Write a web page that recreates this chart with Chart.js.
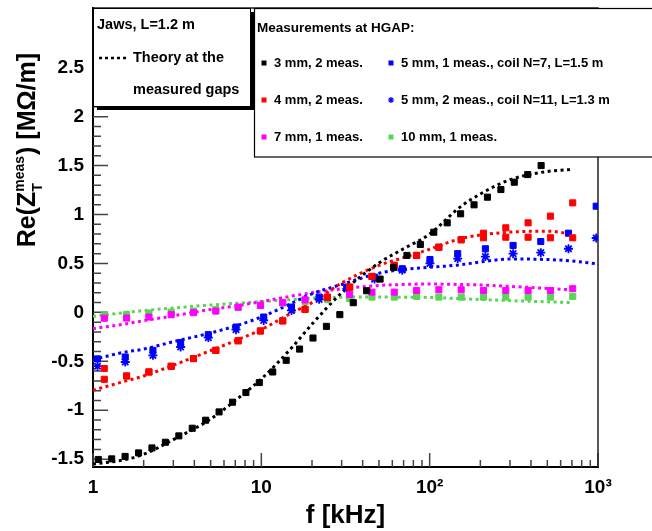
<!DOCTYPE html>
<html>
<head>
<meta charset="utf-8">
<script src="https://cdn.jsdelivr.net/npm/chart.js@4.4.0/dist/chart.umd.min.js"></script>
<style>
  html, body { margin: 0; padding: 0; background: #fff; }
  #wrap { width: 652px; height: 531px; }
</style>
</head>
<body>
<div id="wrap"><canvas id="zchart" width="652" height="531"></canvas></div>
<script>
// frequencies in kHz, Re(Z) in MOhm/m
const blackFreq = [1.075, 1.291, 1.551, 1.865, 2.240, 2.692, 3.235, 3.886, 4.669, 5.610, 6.741, 8.098, 9.728,
  11.69, 14.05, 16.87, 20.27, 24.36, 29.27, 35.16, 42.25, 50.76, 60.99, 73.28, 88.03, 105.8, 127.1, 152.7,
  183.5, 220.4, 264.9, 318.2, 382.3, 459.3];
const meas3mm = [-1.503, -1.497, -1.472, -1.436, -1.385, -1.327, -1.262, -1.184, -1.102, -1.017, -0.918, -0.819,
  -0.717, -0.609, -0.490, -0.375, -0.262, -0.143, -0.023, 0.099, 0.221, 0.340, 0.459, 0.582, 0.694, 0.819,
  0.915, 1.007, 1.099, 1.177, 1.255, 1.330, 1.408, 1.500];

const gapFreq = [1.167, 1.583, 2.148, 2.915, 3.955, 5.366, 7.281, 9.879, 13.40, 18.18, 24.68, 33.48, 45.42,
  61.63, 83.62, 113.4, 153.9, 208.8, 283.3, 384.3, 521.5, 707.6];
const meas4mmA = [-0.574, -0.650, -0.609, -0.551, -0.472, -0.388, -0.290, -0.190, -0.087, 0.030, 0.155, 0.258,
  0.367, 0.480, 0.582, 0.666, 0.742, 0.809, 0.864, 0.915, 0.983, 1.119];
const meas4mmB = [-0.684, -0.650, -0.609, -0.551, -0.472, -0.388, -0.290, -0.190, -0.087, 0.030, 0.155, 0.258,
  0.367, 0.480, 0.582, 0.666, 0.742, 0.762, 0.768, 0.768, 0.762, 0.762];
const meas7mm = [-0.060, -0.058, -0.048, -0.024, -0.003, 0.013, 0.054, 0.071, 0.099, 0.128, 0.150, 0.184,
  0.207, 0.207, 0.224, 0.231, 0.231, 0.224, 0.224, 0.224, 0.224, 0.242];
const meas10mm = [-0.031, -0.020, -0.007, 0.003, 0.013, 0.028, 0.048, 0.071, 0.095, 0.110, 0.130, 0.140,
  0.156, 0.156, 0.163, 0.156, 0.156, 0.156, 0.156, 0.156, 0.156, 0.163];

const coilFreq = [1.064, 1.554, 2.270, 3.315, 4.843, 7.073, 10.33, 15.10, 22.05, 32.21, 47.05, 68.73, 100.4,
  146.7, 214.3, 313.0, 457.2, 667.8, 975.7];
const meas5mmN7 = [-0.475, -0.456, -0.388, -0.309, -0.228, -0.150, -0.048, 0.054, 0.156, 0.258, 0.360, 0.446,
  0.540, 0.600, 0.650, 0.684, 0.724, 0.809, 1.085];
const meas5mmN11 = [-0.550, -0.507, -0.439, -0.354, -0.258, -0.177, -0.082, 0.020, 0.133, 0.240, 0.340, 0.430,
  0.500, 0.550, 0.570, 0.600, 0.610, 0.650, 0.760];

const theoryFreq = [1, 1.5, 2, 3, 5, 7, 10, 15, 20, 30, 50, 70, 100, 150, 200, 300, 500, 700, 1000];
const theory3mm = [-1.55, -1.51, -1.45, -1.30, -1.09, -0.90, -0.68, -0.37, -0.12, 0.20, 0.505, 0.65, 0.80, 1.07,
  1.21, 1.355, 1.44, 1.46];
const theory4mm = [-0.796, -0.71, -0.65, -0.54, -0.39, -0.29, -0.175, -0.01, 0.10, 0.30, 0.48, 0.56, 0.645, 0.75,
  0.79, 0.82, 0.83, 0.80];
const theory5mm = [-0.483, -0.41, -0.375, -0.30, -0.21, -0.14, -0.047, 0.09, 0.19, 0.285, 0.40, 0.44, 0.46, 0.485,
  0.515, 0.545, 0.54, 0.525, 0.495];
const theory7mm = [-0.167, -0.122, -0.085, -0.035, 0.03, 0.065, 0.11, 0.165, 0.20, 0.24, 0.275, 0.285, 0.29,
  0.285, 0.28, 0.265, 0.245, 0.23];
const theory10mm = [-0.04, -0.005, 0.018, 0.045, 0.075, 0.092, 0.11, 0.13, 0.145, 0.155, 0.157, 0.155, 0.152,
  0.14, 0.132, 0.12, 0.108, 0.10];

const xTicks = [1, 10, 100, 1000];
const xTickLabels = ["1", "10", "10\u00B2", "10\u00B3"];
const yTicks = [-1.5, -1, -0.5, 0, 0.5, 1, 1.5, 2, 2.5];
const yTickLabels = ["-1.5", "-1", "-0.5", "0", "0.5", "1", "1.5", "2", "2.5"];

const FONT = '"Liberation Sans", Arial, Helvetica, sans-serif';
const GREEN = "#59d454";

function pts(xs, ys) {
  return ys.map((y, i) => ({ x: xs[i], y: y }));
}

function measSet(label, xs, ys, color, style) {
  return {
    label: label,
    data: pts(xs, ys),
    showLine: false,
    pointStyle: style || "rect",
    pointRadius: style === "star" ? 4.5 : 4.3,
    pointBorderWidth: style === "star" ? 1.8 : 1,
    backgroundColor: color,
    borderColor: color,
    order: 0
  };
}

function theorySet(xs, ys, color) {
  return {
    label: "theory",
    data: pts(xs, ys),
    showLine: true,
    pointRadius: 0,
    borderColor: color,
    borderWidth: 3,
    borderDash: [3, 3.5],
    cubicInterpolationMode: "monotone",
    fill: false,
    order: 1
  };
}

const datasets = [
  measSet("3 mm, 2 meas.", blackFreq, meas3mm, "#000000"),
  measSet("4 mm, 2 meas.", gapFreq, meas4mmA, "#ff0000"),
  measSet("4 mm, 2 meas.", gapFreq, meas4mmB, "#ff0000"),
  measSet("7 mm, 1 meas.", gapFreq, meas7mm, "#ff00ff"),
  measSet("5 mm, 1 meas., coil N=7, L=1.5 m", coilFreq, meas5mmN7, "#0000ff"),
  measSet("5 mm, 2 meas., coil N=11, L=1.3 m", coilFreq, meas5mmN11, "#0000ff", "star"),
  measSet("10 mm, 1 meas.", gapFreq, meas10mm, GREEN),
  theorySet(theoryFreq, theory3mm, "#000000"),
  theorySet(theoryFreq, theory4mm, "#ff0000"),
  theorySet(theoryFreq, theory5mm, "#0000ff"),
  theorySet(theoryFreq, theory7mm, "#ff00ff"),
  theorySet(theoryFreq, theory10mm, GREEN)
];

// inside ticks (ROOT style) and the rest of the frame
const frameTicks = {
  id: "frameTicks",
  beforeDatasetsDraw(chart) {
    const ctx = chart.ctx;
    const a = chart.chartArea;
    const xs = chart.scales.x, ys = chart.scales.y;
    ctx.save();
    ctx.strokeStyle = "#444";
    ctx.lineWidth = 1.5;
    ctx.beginPath();
    for (let dec = 1; dec < 1000; dec *= 10) {
      for (let m = 1; m < 10; m++) {
        const px = xs.getPixelForValue(m * dec);
        const len = m === 1 ? 14 : 7;
        ctx.moveTo(px, a.bottom);
        ctx.lineTo(px, a.bottom - len);
      }
    }
    const px = xs.getPixelForValue(1000);
    ctx.moveTo(px, a.bottom);
    ctx.lineTo(px, a.bottom - 14);
    for (let k = -15; k <= 30; k++) {
      const py = ys.getPixelForValue(k / 10);
      const len = k % 5 === 0 ? 15 : 8;
      ctx.moveTo(a.left, py);
      ctx.lineTo(a.left + len, py);
    }
    ctx.stroke();
    ctx.strokeStyle = "#222";
    ctx.beginPath();
    ctx.moveTo(a.right, a.bottom);
    ctx.lineTo(a.right, a.top);
    ctx.lineTo(a.left, a.top);
    ctx.stroke();
    ctx.restore();
  },
  afterDraw(chart) {
    // y axis title with sub- and superscript
    const ctx = chart.ctx;
    ctx.save();
    ctx.fillStyle = "#000";
    ctx.textBaseline = "alphabetic";
    const big = "bold 25px " + FONT, small = "bold 14px " + FONT;
    ctx.font = big;
    const w1 = ctx.measureText("Re(Z").width;
    const w3 = ctx.measureText(") [M\u03A9/m]").width;
    ctx.font = small;
    const w2 = Math.max(ctx.measureText("meas").width, ctx.measureText("T").width) + 1;
    const total = w1 + w2 + w3;
    ctx.translate(35, 53);
    ctx.rotate(-Math.PI / 2);
    let x = -total;
    ctx.font = big;
    ctx.fillText("Re(Z", x, 0);
    x += w1;
    ctx.font = small;
    ctx.fillText("meas", x, -11);
    ctx.fillText("T", x, 7);
    x += w2;
    ctx.font = big;
    ctx.fillText(") [M\u03A9/m]", x, 0);
    ctx.restore();
  }
};

function drawMarker(ctx, style, color, x, y) {
  ctx.fillStyle = color;
  ctx.strokeStyle = color;
  if (style === "star") {
    ctx.lineWidth = 1.2;
    ctx.beginPath();
    ctx.moveTo(x - 3, y); ctx.lineTo(x + 3, y);
    ctx.moveTo(x, y - 3); ctx.lineTo(x, y + 3);
    ctx.moveTo(x - 2.2, y - 2.2); ctx.lineTo(x + 2.2, y + 2.2);
    ctx.moveTo(x - 2.2, y + 2.2); ctx.lineTo(x + 2.2, y - 2.2);
    ctx.stroke();
  } else {
    ctx.fillRect(x - 2.5, y - 2.5, 5, 5);
  }
}

const rootLegends = {
  id: "rootLegends",
  afterDraw(chart) {
    const ctx = chart.ctx;
    ctx.save();
    // box 1: jaws / theory
    ctx.fillStyle = "#000";
    ctx.fillRect(97, 12, 157, 98);
    ctx.fillStyle = "#fff";
    ctx.fillRect(93, 8, 158, 99);
    ctx.strokeStyle = "#000";
    ctx.lineWidth = 1;
    ctx.strokeRect(93.5, 8.5, 157, 98);
    ctx.fillStyle = "#000";
    ctx.textBaseline = "middle";
    ctx.textAlign = "left";
    ctx.font = "bold 14.5px " + FONT;
    ctx.fillText("Jaws, L=1.2 m", 97, 25);
    ctx.fillText("Theory at the", 133, 58);
    ctx.fillText("measured gaps", 133, 90);
    ctx.setLineDash([3, 3]);
    ctx.lineWidth = 2.5;
    ctx.beginPath();
    ctx.moveTo(99, 58);
    ctx.lineTo(129, 58);
    ctx.stroke();
    ctx.setLineDash([]);

    // box 2: measurements
    ctx.fillStyle = "#fff";
    ctx.fillRect(254, 8, 420, 149);
    ctx.lineWidth = 1.2;
    ctx.strokeRect(254.5, 8.5, 420, 148.5);
    ctx.fillStyle = "#000";
    ctx.font = "bold 13.5px " + FONT;
    ctx.fillText("Measurements at HGAP:", 257, 28);

    const ds = chart.data.datasets;
    const entries = [
      [ds[0], 264, 63], [ds[4], 391, 63],
      [ds[1], 264, 100], [ds[5], 391, 100],
      [ds[3], 264, 137], [ds[6], 391, 137]
    ];
    ctx.font = "bold 13px " + FONT;
    entries.forEach(([d, x, y]) => {
      drawMarker(ctx, d.pointStyle, d.backgroundColor, x, y);
      ctx.fillStyle = "#000";
      ctx.fillText(d.label, x + 10, y);
    });
    ctx.restore();
  }
};

Chart.defaults.font.family = FONT;
Chart.defaults.color = "#000";

const ctx = document.getElementById("zchart").getContext("2d");
const zChart = new Chart(ctx, {
  type: "scatter",
  data: { datasets: datasets },
  options: {
    responsive: false,
    devicePixelRatio: 1,
    animation: false,
    layout: { padding: { top: 8, right: 54, left: 0, bottom: 0 } },
    plugins: {
      legend: { display: false },
      tooltip: { enabled: false }
    },
    scales: {
      x: {
        type: "logarithmic",
        position: "bottom",
        min: 1,
        max: 1000,
        grid: { display: false, drawTicks: false },
        border: { display: true, color: "#000", width: 2 },
        ticks: {
          font: { size: 19, weight: "bold" },
          color: "#000",
          padding: 9,
          maxRotation: 0,
          autoSkip: false,
          callback: function(v) {
            const i = xTicks.indexOf(v);
            return i >= 0 ? xTickLabels[i] : "";
          }
        },
        title: {
          display: true,
          text: "f [kHz]",
          font: { size: 26, weight: "bold" },
          color: "#000",
          padding: { top: 0, bottom: 0 }
        },
        afterBuildTicks: function(scale) {
          scale.ticks = xTicks.map(v => ({ value: v }));
        },
        afterFit: function(scale) {
          scale.height = 64;
          scale.paddingLeft = 0;
          scale.paddingRight = 0;
        }
      },
      y: {
        min: -1.58,
        max: 3.11,
        grid: { display: false, drawTicks: false },
        border: { display: true, color: "#000", width: 2 },
        ticks: {
          font: { size: 19, weight: "bold" },
          color: "#000",
          padding: 9,
          autoSkip: false,
          callback: function(v) {
            const i = yTicks.indexOf(v);
            return i >= 0 ? yTickLabels[i] : "";
          }
        },
        afterBuildTicks: function(scale) {
          scale.ticks = yTicks.map(v => ({ value: v }));
        },
        afterFit: function(scale) {
          scale.width = 93;
          scale.paddingTop = 0;
          scale.paddingBottom = 0;
        }
      }
    }
  },
  plugins: [frameTicks, rootLegends]
});
</script>
</body>
</html>
